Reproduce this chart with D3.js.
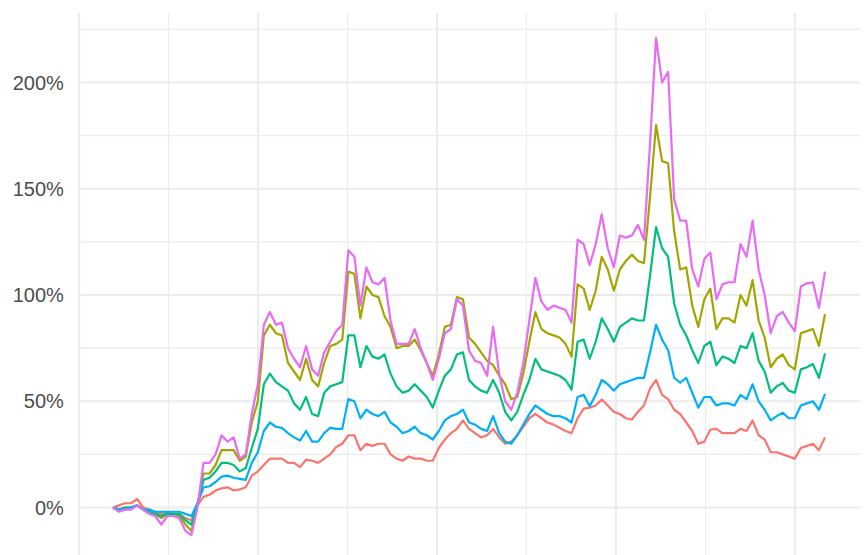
<!DOCTYPE html>
<html>
<head>
<meta charset="utf-8">
<script src="https://cdn.jsdelivr.net/npm/d3@7"></script>
<style>
  body { margin: 0; background: #fff; }
  svg { display: block; }
  .grid line { stroke: #ebebeb; }
  .ylab { font-family: "Liberation Sans", Arial, sans-serif; font-size: 20px; fill: #4d4d4d; }
</style>
</head>
<body>
<svg id="chart" width="868" height="555"></svg>
<script>
// cumulative return (%) of five series, sampled at evenly spaced steps
var red = [0,1,2,2,4,0,-1,-2,-3,-2,-3,-3,-5,-6,1,5,6,8,9,9.5,8,8.5,9.5,15,17,20,23,23,23,21,21,19,22.5,22,21,23,25,28.5,30,34,34,27,30,29,30,30,25,23,22,24,23,23,22,22,28,32,35,37,41,37,35,33,34,37,33,30,31,34,38,42,44,42,40,39,37.5,36,35,42,46.5,47,48,50.8,48,45,44,42,41.4,45,48,56,60,53,51,46,44,40,36,30,31,36.7,37,35,35,35,37,36,41,34,32,26,26,25,24,23,28,29,30,27,33];
var olive = [0,-1,0,0,1,-1,-3,-3,-5,-3,-3,-4,-8,-11,1,16,16,20,27,27,27,22,24,40,50,81,86,82,81,68,64,60,70,60,57,68,76,77,79,111,110,89,104,100,99,90,85,75,76,76,79,74,68,62,72,85,86,99,98,80,77,73,69,67,62,58,51,52,63,78,92,84,82,81,80,77,71,105,103,93,102,118,112,102,112,116,119,116,115,146,180,163,162,130,112,113,95,85,98,103,84,89,89,87,100,95,107,88,80,66,70,72,67,65,82,83,84,76,91];
var green = [0,-1,0,0,1,-1,-2,-3,-4,-3,-3,-3,-6,-8,2,13,14,17,21,21,20,17,18.5,28,37,58,63,59,57,55,49,46,52,44,43,54,57,58,59,81,81,66,76,71,70,72,63,57,54,55,58,55,52,47,55,62,65,72,73,60,57,55,54,60,54,45,41,45,53,60,70,65,64,63,62,60,55.5,78,79,70,78,89,84,78,85,87,89,88,88,109,132,122,118,96,86,81,74,68,76,78,67,71,70,68,76,75,82,69,64,54,57,58.6,55,54,65,66,67.5,61,72.5];
var blue = [0,-1,-1,0,1,-1,-1,-2,-2,-2,-2,-2,-3,-4,2,9.5,10,12,14.5,15,14,13.5,13,21,26,36,40,38,37.5,35,33,31.5,36,31,31,35,37.5,37,37,51,50,42,46,44,43,45,40,38,35,36,38,35,34,32,36,41,43,44,46,40,39,37,36,43,35,31,30,34,39,44,48,46,44,43,43,42,40,52,53,47.6,53,60,58,55,58,59,60,61,61,73,86,79,74,61,58.7,61,54,47,52,52,48,49,49,48,53,51,58,50,46,41,43,44.6,42,42,48,49,50,46,53.5];
var pink = [0,-2,-1,-1,1,-1,-3,-4,-8,-4,-4,-5,-11,-13,0,21,21,25,34,31,33,23,25,44,58,86,92,86,87,75,70,66,76,65,62,73,78,83,86,121,118,95,113,106,105,108,88,77,77,77,84,75,68,60,70,82,84,98,95,74,69,68,62,85,63,50,46,54,68,88,108,97,93,95,94,93,87,126,124,114,124,138,122,113,128,127,128,133,126,171,221,200,205,145,135,135,112,104,117,120,98,105,106,106,124,118,135,112,100,82,90,92,87,83,104,105.5,106,94,111];

var seriesColors = ["#F8766D", "#A3A500", "#00BF7D", "#00B0F6", "#E76BF3"];
var yMajor = [0, 50, 100, 150, 200];
var yMinor = [-25, 25, 75, 125, 175, 225];
var xMajor = [-5.6, 24.05, 53.7, 83.35, 113];
var xMinor = [9.2, 38.9, 68.5, 98.2];

var series = [red, olive, green, blue, pink];

var svg = d3.select("#chart"),
    margin = {top: 13, left: 77.4},
    width = 783.2,
    height = 547;

var n = red.length;
var xPad = (n - 1) * 0.05;
var x = d3.scaleLinear().domain([-xPad, n - 1 + xPad]).range([0, width]);

var lo = d3.min(series, function(s) { return d3.min(s); }),
    hi = d3.max(series, function(s) { return d3.max(s); }),
    yPad = (hi - lo) * 0.05;
var y = d3.scaleLinear().domain([lo - yPad, hi + yPad]).range([height, 0]);

var g = svg.append("g")
    .attr("transform", "translate(" + margin.left + "," + margin.top + ")");

var grid = g.append("g").attr("class", "grid");

grid.selectAll(".hmin").data(yMinor).enter().append("line")
    .attr("x1", 0).attr("x2", width)
    .attr("y1", function(d) { return y(d); }).attr("y2", function(d) { return y(d); })
    .attr("stroke-width", 1.1);
grid.selectAll(".vmin").data(xMinor).enter().append("line")
    .attr("y1", 0).attr("y2", height)
    .attr("x1", function(d) { return x(d); }).attr("x2", function(d) { return x(d); })
    .attr("stroke-width", 1.1);
grid.selectAll(".hmaj").data(yMajor).enter().append("line")
    .attr("x1", 0).attr("x2", width)
    .attr("y1", function(d) { return y(d); }).attr("y2", function(d) { return y(d); })
    .attr("stroke-width", 2);
grid.selectAll(".vmaj").data(xMajor).enter().append("line")
    .attr("y1", 0).attr("y2", height)
    .attr("x1", function(d) { return x(d); }).attr("x2", function(d) { return x(d); })
    .attr("stroke-width", 2);

g.selectAll(".ylab").data(yMajor).enter().append("text")
    .attr("class", "ylab")
    .attr("x", -13.5)
    .attr("y", function(d) { return y(d); })
    .attr("dy", "0.36em")
    .attr("text-anchor", "end")
    .text(function(d) { return d + "%"; });

var line = d3.line()
    .x(function(d, i) { return x(i); })
    .y(function(d) { return y(d); });

g.selectAll(".series").data(series).enter().append("path")
    .attr("class", "series")
    .attr("fill", "none")
    .attr("stroke", function(d, i) { return seriesColors[i]; })
    .attr("stroke-width", 2.2)
    .attr("stroke-linejoin", "round")
    .attr("d", line);
</script>
</body>
</html>
